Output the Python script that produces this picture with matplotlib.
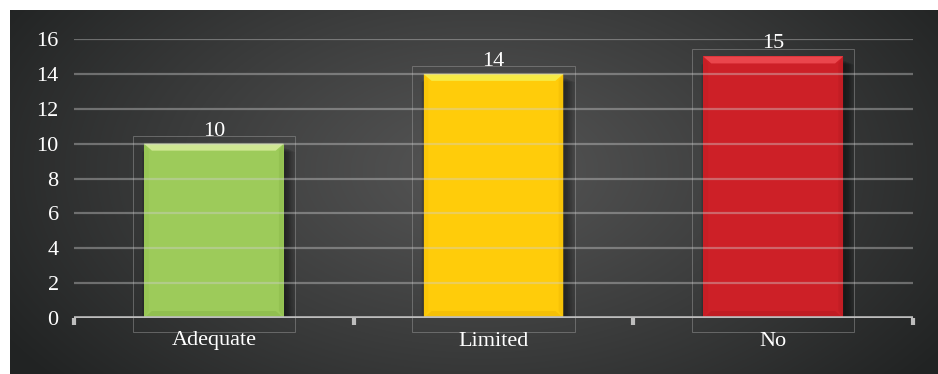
import numpy as np
import matplotlib
matplotlib.use("Agg")
import matplotlib.pyplot as plt
from matplotlib.patches import Rectangle, Polygon

categories = ["Adequate", "Limited", "No"]
values = [10, 14, 15]
bar_colors = ["#9dcb5a", "#ffcc0a", "#cd2027"]
top_colors = ["#cfe793", "#f6ea45", "#ea464c"]
side_colors = ["#8fbd4e", "#f3bd06", "#bd1c23"]
y_ticks = [0, 2, 4, 6, 8, 10, 12, 14, 16]

W, H = 938, 374
fig = plt.figure(figsize=(W / 100, H / 100), dpi=100)
fig.patch.set_facecolor("white")

font = ["Liberation Serif", "DejaVu Serif"]
fsize = 16

# radial gradient backdrop
bg = fig.add_axes([10 / W, 0, (W - 10) / W, (H - 10) / H])
bg.set_axis_off()
bw, bh = W - 10, H - 10
yy, xx = np.mgrid[0:bh, 0:bw]
cx, cy = 470, 160
r = np.sqrt(((xx - cx) / 560.0) ** 2 + ((yy - cy) / 330.0) ** 2)
t = np.clip(r, 0, 1) ** 1.1
c_in = np.array([0x55, 0x55, 0x55]) / 255
c_out = np.array([0x21, 0x23, 0x23]) / 255
img = c_in[None, None, :] * (1 - t[..., None]) + c_out[None, None, :] * t[..., None]
bg.imshow(img, aspect="auto", extent=[0, bw, bh, 0], interpolation="bilinear")
bg.set_xlim(0, bw)
bg.set_ylim(bh, 0)

# plotting area
x0, x1 = 74, 913
y0, y16 = 318, 39
ax = fig.add_axes([x0 / W, (H - y0) / H, (x1 - x0) / W, (y0 - y16) / H])
ax.patch.set_alpha(0)
ax.set_xlim(-0.5, 2.5)
ax.set_ylim(0, 16)
for s in ax.spines.values():
    s.set_visible(False)

px_x = 3.0 / (x1 - x0)   # data units per pixel
px_y = 16.0 / (y0 - y16)

xs = np.arange(len(categories))
bw_data = 0.5

# soft drop shadows
for i, v in enumerate(values):
    for k in range(14, 0, -1):
        ax.add_patch(Rectangle((xs[i] - bw_data / 2 - k * 0.3 * px_x + 2 * px_x, -k * 0.4 * px_y),
                               bw_data + k * 1.0 * px_x, v + k * 0.1 * px_y - 4 * px_y,
                               facecolor="black", edgecolor="none", alpha=0.03, zorder=1))

bars = ax.bar(xs, values, width=bw_data, color=bar_colors, zorder=2, linewidth=0)

# bevel details on each bar
for i, v in enumerate(values):
    L, R = xs[i] - bw_data / 2, xs[i] + bw_data / 2
    bx, by = 8 * px_x, 7 * px_y
    ax.add_patch(Polygon([(L, v), (R, v), (R - bx, v - by), (L + bx, v - by)],
                         closed=True, facecolor=top_colors[i], edgecolor="none", zorder=3))
    ax.add_patch(Polygon([(L, v), (L + bx * 0.6, v - by), (L + bx * 0.6, by), (L, 0)],
                         closed=True, facecolor=side_colors[i], edgecolor="none", alpha=0.35, zorder=3))
    ax.add_patch(Polygon([(R, v), (R - bx * 0.6, v - by), (R - bx * 0.6, by), (R, 0)],
                         closed=True, facecolor=side_colors[i], edgecolor="none", alpha=0.6, zorder=3))
    ax.add_patch(Polygon([(L, 0), (R, 0), (R - bx, by), (L + bx, by)],
                         closed=True, facecolor=side_colors[i], edgecolor="none", alpha=0.8, zorder=3))
    # faint outline boxes around each bar
    ax.add_patch(Rectangle((xs[i] - 0.29, -0.8), 0.58, v + 0.45 + 0.8,
                           facecolor="none", edgecolor="#9a9a9a", lw=0.7, alpha=0.5,
                           zorder=4, clip_on=False))
    ax.text(xs[i], v + 3 * px_y, str(v), ha="center", va="bottom", color="white",
            fontsize=fsize, family=font, zorder=6)
    ax.text(xs[i], -23 * px_y, categories[i], ha="center", va="center", color="white",
            fontsize=fsize, family=font, zorder=6, clip_on=False)

# gridlines drawn above the bars
for yv in y_ticks[1:]:
    ax.axhline(yv, color="#d0d0d0", lw=1.6, alpha=0.4, zorder=5)

# category axis
ax.axhline(0, color="#bdbdbd", lw=2.6, zorder=5)
for b in [-0.5, 0.5, 1.5, 2.5]:
    ax.plot([b, b], [0, -7 * px_y], color="#bdbdbd", lw=3, zorder=5,
            clip_on=False, solid_capstyle="butt")

ax.set_xticks([])
ax.set_yticks(y_ticks)
ax.set_yticklabels([str(v) for v in y_ticks], color="white", fontsize=fsize, family=font)
ax.tick_params(axis="y", length=0, pad=11)

fig.savefig("out.png", dpi=100, facecolor=fig.get_facecolor())
